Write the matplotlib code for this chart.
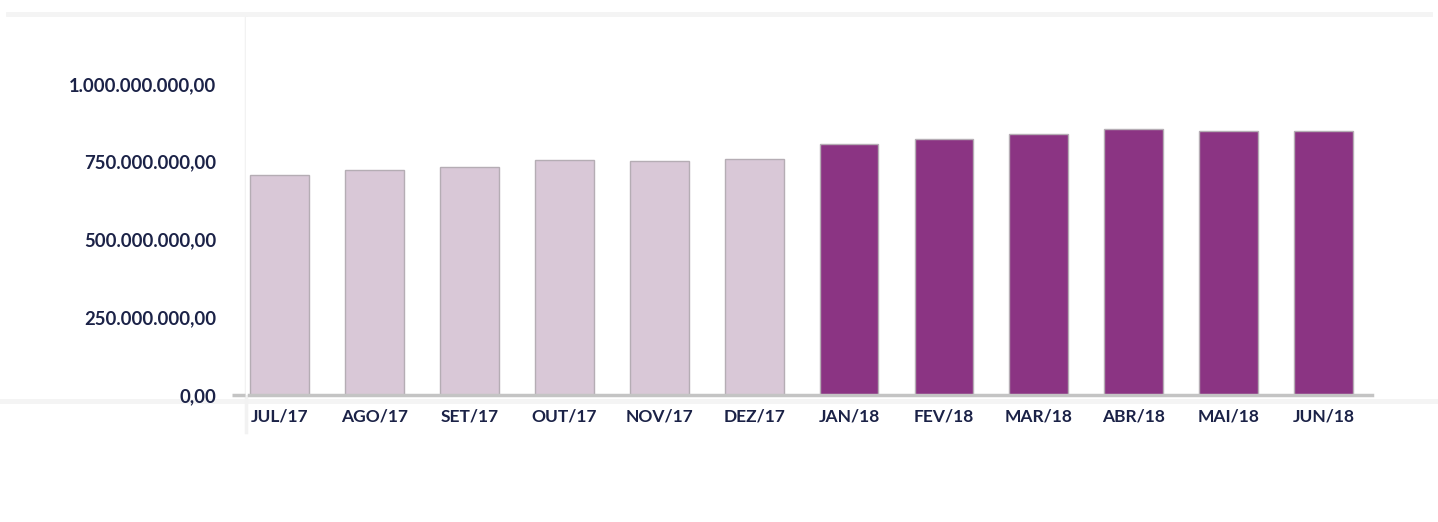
import matplotlib
matplotlib.use("Agg")
import matplotlib.pyplot as plt
from matplotlib.lines import Line2D
from matplotlib.ticker import FuncFormatter

# month labels and values
months = ["JUL/17", "AGO/17", "SET/17", "OUT/17", "NOV/17", "DEZ/17",
          "JAN/18", "FEV/18", "MAR/18", "ABR/18", "MAI/18", "JUN/18"]
values = [707e6, 723e6, 733e6, 756e6, 752e6, 759e6,
          807e6, 823e6, 839e6, 855e6, 849e6, 849e6]
yticks = [0, 250e6, 500e6, 750e6, 1000e6]

light = "#d9c8d7"
dark = "#8b3483"
txt = "#1b2247"
colors = [light] * 6 + [dark] * 6

plt.rcParams["font.family"] = ["Lato", "DejaVu Sans"]
plt.rcParams["font.weight"] = "bold"


def br_fmt(v, pos):
    s = f"{v:,.2f}"
    return s.replace(",", "X").replace(".", ",").replace("X", ".")


fig = plt.figure(figsize=(14.38, 5.22), dpi=100)
ax = fig.add_axes([246 / 1438, 1 - 395 / 522, (1372 - 246) / 1438, (395 - 16.7) / 522])

x = list(range(len(months)))
ax.bar(x, values, width=0.62, color=colors, edgecolor="#b5adb4", linewidth=1.0, zorder=3)

ax.set_xlim(-0.353, 11.51)
ax.set_ylim(0, 1.216e9)
ax.set_yticks(yticks)
ax.yaxis.set_major_formatter(FuncFormatter(br_fmt))
ax.set_xticks(x)
ax.set_xticklabels(months)

for lab in ax.get_xticklabels():
    lab.set_fontweight("bold")
    lab.set_fontsize(12.5)
    lab.set_color(txt)
for lab in ax.get_yticklabels():
    lab.set_fontweight("bold")
    lab.set_fontsize(13.3)
    lab.set_color(txt)

ax.tick_params(axis="x", length=0, pad=10)
ax.tick_params(axis="y", length=0, pad=21.6)

for s in ["top", "right", "left"]:
    ax.spines[s].set_visible(False)
ax.spines["bottom"].set_color("#c4c4c4")
ax.spines["bottom"].set_linewidth(2.5)
ax.spines["bottom"].set_zorder(4)
ax.spines["bottom"].set_bounds(-0.353 + 3 / 94.9, 11.51)

# small dash next to the zero label
ax.plot([-0.353 - 14 / 94.9, -0.353 - 1 / 94.9], [0, 0], color="#c4c4c4", lw=2.5,
        clip_on=False, solid_capstyle="butt")

# light layout guides from the original page
fig.add_artist(Line2D([8 / 1438, 1430 / 1438], [1 - 14 / 522, 1 - 14 / 522],
                      color="#f4f4f4", lw=3.5))
fig.add_artist(Line2D([0, 1], [1 - 401 / 522, 1 - 401 / 522], color="#f4f4f4", lw=3.5, zorder=0))
fig.add_artist(Line2D([246 / 1438, 246 / 1438], [1 - 16 / 522, 1 - 432 / 522],
                      color="#f2f2f2", lw=2.5, zorder=0))

fig.savefig("out.png", dpi=100, facecolor="white")
